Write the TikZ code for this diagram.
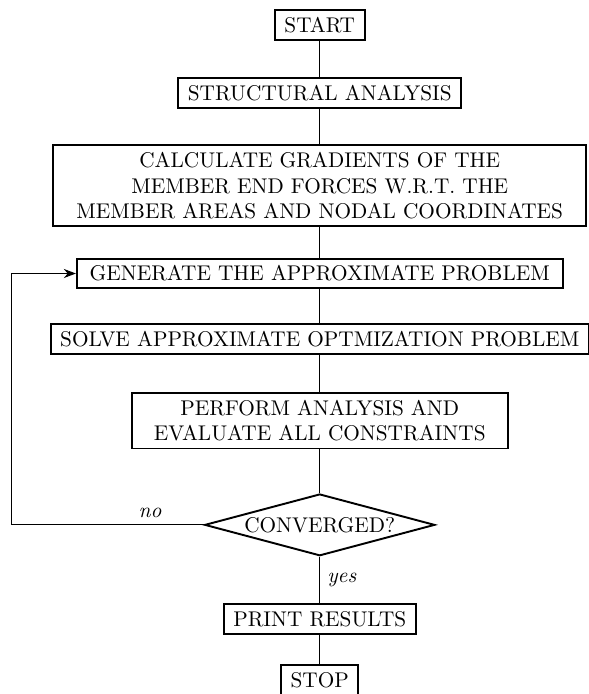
\documentclass[tikz,border=0pt]{standalone}
\usepackage{tikz}
\usetikzlibrary{arrows.meta,calc,positioning,shapes.geometric}

\begin{document}
\begin{tikzpicture}[node distance=6mm, every node/.style={align=center},
  box/.style={draw,line width=0.9pt,inner xsep=4.5pt},
  dec/.style={draw,line width=0.9pt,diamond,aspect=3.7,minimum width=3.8cm,minimum height=1.02cm,inner sep=0pt},
  l/.style={line width=0.5pt},
  a/.style={l,-{Stealth[length=2mm]}}]
  \useasboundingbox (-5.28,0.417) rectangle (4.43,-11.043);
  \node[box] (start) at (0,0) {START};
  \node[box,below=5.9mm of start] (sa) {STRUCTURAL ANALYSIS};
  \node[box,below=5.9mm of sa,inner xsep=10.9pt] (grad) {CALCULATE GRADIENTS OF THE\\MEMBER END FORCES W.R.T. THE\\MEMBER AREAS AND NODAL COORDINATES};
  \node[box,below=5mm of grad,inner xsep=6pt] (gen) {GENERATE THE APPROXIMATE PROBLEM};
  \node[box,below=5.5mm of gen] (solve) {SOLVE APPROXIMATE OPTMIZATION PROBLEM};
  \node[box,below=6.2mm of solve,inner xsep=10.5pt] (perf) {PERFORM ANALYSIS AND\\EVALUATE ALL CONSTRAINTS};
  \node[dec,below=7.2mm of perf] (conv) {CONVERGED?};
  \node[box,below=7.7mm of conv] (print) {PRINT RESULTS};
  \node[box,below=4.8mm of print] (stop) {STOP};
  \draw[l] (start)--(sa); \draw[l] (sa)--(grad); \draw[l] (grad)--(gen);
  \draw[l] (gen)--(solve); \draw[l] (solve)--(perf); \draw[l] (perf)--(conv);
  \draw[l] (conv)-- node[pos=0.5,right] {\textit{yes}} (print); \draw[l] (print)--(stop);
  % loop back when not converged
  \coordinate (back) at ($(gen.west)+(-1.06,0)$);
  \draw[a] (conv.west) -| node[pos=0.14,above] {\textit{no}} (back) -- (gen.west);
\end{tikzpicture}
\end{document}
